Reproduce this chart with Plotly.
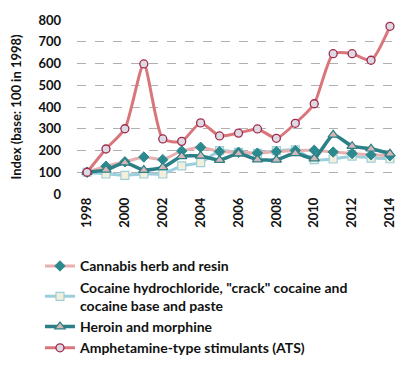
import plotly.graph_objects as go

years = list(range(1998, 2015))
cannabis = [100, 128, 148, 170, 158, 198, 215, 195, 192, 188, 195, 200, 201, 193, 186, 180, 176]
cocaine = [100, 92, 86, 92, 92, 129, 144, 199, 191, 187, 199, 203, 158, 161, 174, 165, 162]
heroin = [100, 111, 144, 110, 122, 173, 175, 156, 186, 158, 157, 187, 163, 272, 220, 208, 185]
ats = [100, 207, 300, 598, 253, 242, 327, 267, 280, 299, 256, 325, 415, 645, 645, 615, 771]

names = [
    "Cannabis herb and resin",
    'Cocaine hydrochloride, "crack" cocaine and<br>cocaine base and paste',
    "Heroin and morphine",
    "Amphetamine-type stimulants (ATS)",
]
tick_years = list(range(1998, 2015, 2))

fig = go.Figure()
fig.add_trace(go.Scatter(
    x=years, y=cocaine, name=names[1], mode="lines+markers", legendrank=2,
    line=dict(color="#9ccfdb", width=3, shape="spline", smoothing=0.5),
    marker=dict(symbol="square", size=8, color="#f3efdb", line=dict(color="#9ccfdb", width=1.2)),
))
fig.add_trace(go.Scatter(
    x=years, y=cannabis, name=names[0], mode="lines+markers", legendrank=1,
    line=dict(color="#e8b0b0", width=3, shape="spline", smoothing=0.5),
    marker=dict(symbol="diamond", size=8, color="#2b8a8e", line=dict(color="#2b8a8e", width=1)),
))
fig.add_trace(go.Scatter(
    x=years, y=heroin, name=names[2], mode="lines+markers", legendrank=3,
    line=dict(color="#2b7f86", width=3.5, shape="spline", smoothing=0.5),
    marker=dict(symbol="triangle-up", size=9, color="#d8b6b6", line=dict(color="#2b7f86", width=1.2)),
))
fig.add_trace(go.Scatter(
    x=years, y=ats, name=names[3], mode="lines+markers", legendrank=4,
    line=dict(color="#d9767c", width=3, shape="spline", smoothing=0.6),
    marker=dict(symbol="circle", size=8, color="#dcdbe4", line=dict(color="#a3284b", width=1.3)),
))

font_family = "Lato, 'Open Sans', sans-serif"
fig.update_layout(
    width=416, height=367,
    margin=dict(l=69, r=24, t=12, b=179),
    paper_bgcolor="white", plot_bgcolor="white",
    font=dict(family=font_family, size=13, color="#111111", weight="bold"),
    showlegend=True,
    legend=dict(
        x=-0.1146, y=-0.324, xanchor="left", yanchor="top",
        font=dict(size=14, family=font_family, color="#111111", weight="bold"),
        tracegroupgap=0, itemwidth=30, bgcolor="rgba(0,0,0,0)",
    ),
    xaxis=dict(
        range=[1997.47, 2014.53], tickmode="array", tickvals=tick_years,
        ticktext=[str(y) for y in tick_years], tickangle=-90,
        showgrid=False, zeroline=False, showline=False, ticks="",
        tickfont=dict(size=13, weight="bold"), automargin=False,
    ),
    yaxis=dict(
        range=[0, 800], dtick=100, showgrid=True, gridcolor="#b0b0b0",
        griddash="dash", gridwidth=1, zeroline=False, showline=False,
        ticks="", ticklabelstandoff=15, automargin=False,
        tickfont=dict(size=13, weight="bold"),
        title=dict(text="Index (base: 100 in 1998)", font=dict(size=13, weight="bold"), standoff=19),
    ),
)

fig.write_html("out.html")
